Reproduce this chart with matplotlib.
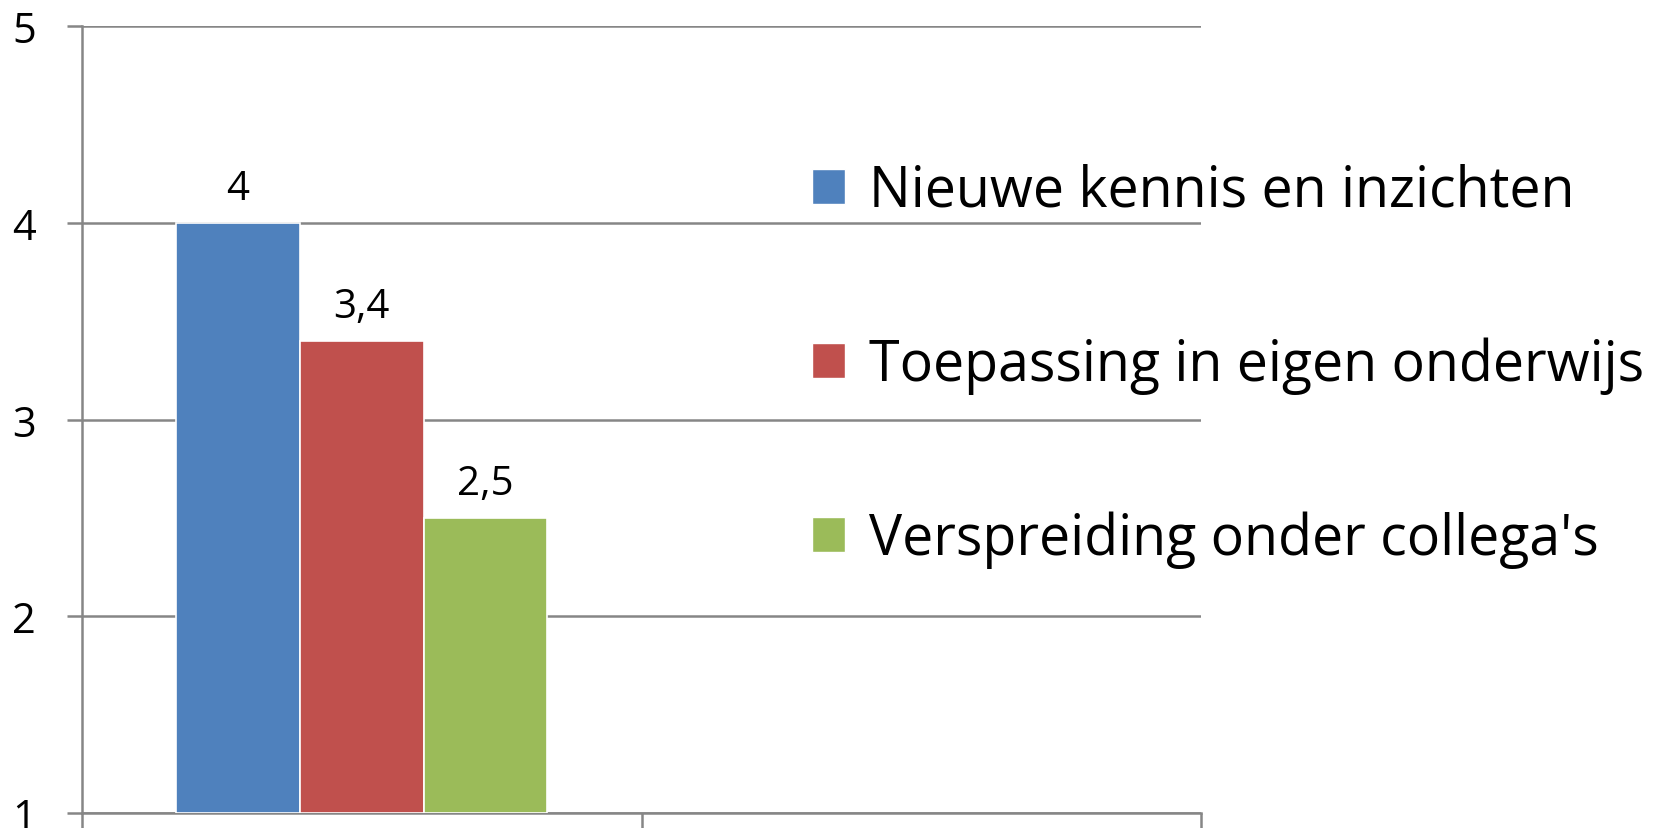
import matplotlib
matplotlib.use("Agg")
import matplotlib.pyplot as plt
from matplotlib.patches import Patch

# data
categories = ["", ""]
series = ["Nieuwe kennis en inzichten", "Toepassing in eigen onderwijs", "Verspreiding onder collega's"]
values = [4.0, 3.4, 2.5]
value_labels = ["4", "3,4", "2,5"]
colors = ["#4F81BD", "#C0504D", "#9BBB59"]
yticks = [1, 2, 3, 4, 5]

plt.rcParams["font.family"] = ["Open Sans", "DejaVu Sans"]
GRAY = "#868686"

fig = plt.figure(figsize=(16.63, 8.29), dpi=100)
ax = fig.add_axes([82 / 1663, 15 / 829, 1119 / 1663, 787 / 829])

width = 0.221
for i, (name, v, lab, c) in enumerate(zip(series, values, value_labels, colors)):
    x = 0.5 + (i - 1) * width
    ax.bar(x, v - 1, bottom=1, width=width, color=c, edgecolor="white", linewidth=1.2, label=name, zorder=3)
    ax.annotate(lab, (x, v), xytext=(0, 17), textcoords="offset points",
                ha="center", va="baseline", fontsize=29, zorder=4)

ax.set_xlim(0, len(categories))
ax.set_ylim(1, 5)
ax.set_yticks(yticks)
ax.set_yticklabels([str(t) for t in yticks])
ax.set_xticks([0, 1, 2])
ax.set_xticklabels([])
ax.yaxis.grid(True, color=GRAY, linewidth=1.8, zorder=0)
ax.set_axisbelow(True)
for s in ["top", "right"]:
    ax.spines[s].set_visible(False)
for s in ["left", "bottom"]:
    ax.spines[s].set_color(GRAY)
    ax.spines[s].set_linewidth(1.8)
ax.tick_params(axis="both", direction="out", length=11, width=1.8, color=GRAY)
ax.tick_params(axis="y", labelsize=30, pad=22)
for lbl in ax.get_yticklabels():
    lbl.set_clip_on(False)

handles = [Patch(facecolor=c, edgecolor="white") for c in colors]
leg = fig.legend(handles, series, loc="upper left", bbox_to_anchor=(812 / 1663, 1 - 164 / 829),
                 frameon=False, fontsize=40, handlelength=0.6, handleheight=0.6,
                 handletextpad=0.42, labelspacing=2.1, borderaxespad=0, borderpad=0)

fig.savefig("out.png", dpi=100)
